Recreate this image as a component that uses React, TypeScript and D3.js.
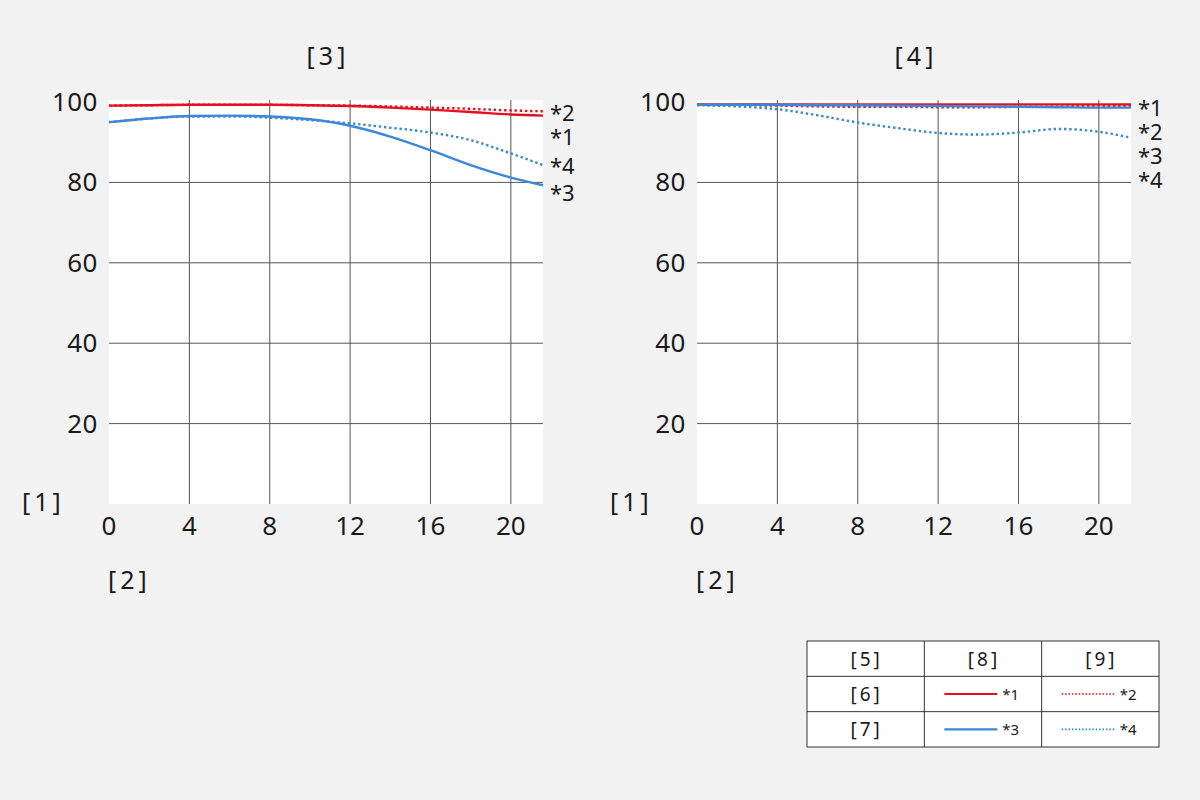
import React from "react";
import * as d3 from "d3";

// image height in mm
const heights = [0, 2, 4, 6, 8, 10, 12, 14, 16, 18, 20, 21.6];

const leftRedSolid = [99.1, 99.2, 99.3, 99.3, 99.3, 99.2, 99.0, 98.6, 98.1, 97.5, 96.9, 96.6];
const leftRedDotted = [99.1, 99.2, 99.3, 99.3, 99.3, 99.2, 99.1, 98.9, 98.6, 98.3, 97.9, 97.7];
const leftBlueSolid = [95.0, 95.9, 96.5, 96.6, 96.4, 95.7, 94.1, 91.4, 88.0, 84.3, 81.2, 79.3];
const leftBlueDotted = [95.0, 95.9, 96.4, 96.4, 96.1, 95.5, 94.7, 93.6, 92.4, 90.5, 87.2, 84.3];

const rightRedSolid = [99.4, 99.4, 99.4, 99.4, 99.4, 99.4, 99.4, 99.4, 99.4, 99.4, 99.4, 99.4];
const rightRedDotted = [99.3, 99.2, 99.1, 98.9, 98.8, 98.8, 98.7, 98.7, 98.8, 98.9, 99.0, 99.1];
const rightBlueSolid = [99.3, 99.3, 99.3, 99.2, 99.2, 99.1, 99.0, 98.9, 98.8, 98.7, 98.6, 98.6];
const rightBlueDotted = [99.2, 98.9, 98.2, 96.7, 94.9, 93.5, 92.3, 91.9, 92.4, 93.3, 92.6, 91.1];

const xTicks = [0, 4, 8, 12, 16, 20];
const yTicks = [20, 40, 60, 80, 100];
const yGrid = [20, 40, 60, 80];

const leftLabels = ["*2", "*1", "*4", "*3"];
const leftLabelValues = [97.3, 91.3, 84.1, 77.4];
const rightLabels = ["*1", "*2", "*3", "*4"];
const rightLabelValues = [98.5, 92.5, 86.6, 80.6];

const legendCols = ["[5]", "[8]", "[9]"];
const legendRows = ["[6]", "[7]"];
const legendKeys = [
  ["*1", "*2"],
  ["*3", "*4"],
];

const RED = "#e60f1e";
const BLUE = "#3a88d6";
const FONT = "'Noto Sans', 'Open Sans', sans-serif";
const TEXT = "#1a1a1a";

const W = 1200;
const H = 800;

interface Series {
  values: number[];
  color: string;
  dotted: boolean;
}

const Panel: React.FC<{
  x0: number;
  title: string;
  series: Series[];
  labels: string[];
  labelValues: number[];
}> = ({ x0, title, series, labels, labelValues }) => {
  const plotTop = 102;
  const plotBottom = 504;
  const x = d3.scaleLinear().domain([0, 21.6]).range([x0, x0 + 434]);
  const y = d3.scaleLinear().domain([0, 100]).range([plotBottom, plotTop]);

  const line = d3
    .line<number>()
    .x((_, i) => x(heights[i]))
    .y((d) => y(d))
    .curve(d3.curveMonotoneX);

  return (
    <g fontFamily={FONT} fill={TEXT}>
      <rect
        x={x(0)}
        y={y(100) - 2}
        width={x(21.6) - x(0)}
        height={y(0) - y(100) + 2}
        fill="#fff"
      />
      {yGrid.map((t) => (
        <line
          key={"h" + t}
          x1={x(0)}
          x2={x(21.6)}
          y1={y(t)}
          y2={y(t)}
          stroke="#555"
          strokeWidth={1}
        />
      ))}
      {xTicks.slice(1).map((t) => (
        <line
          key={"v" + t}
          x1={x(t)}
          x2={x(t)}
          y1={y(100) - 2}
          y2={y(0)}
          stroke="#555"
          strokeWidth={1}
        />
      ))}
      {series.map((s, i) => (
        <path
          key={i}
          d={line(s.values) || ""}
          fill="none"
          stroke={s.color}
          strokeWidth={2.4}
          strokeDasharray={s.dotted ? "2.4 2.8" : undefined}
        />
      ))}
      {yTicks.map((t) => (
        <text key={"yt" + t} x={x(0) - 11} y={y(t) + 9} fontSize={26} textAnchor="end" letterSpacing={0.5}>
          {t}
        </text>
      ))}
      {xTicks.map((t) => (
        <text key={"xt" + t} x={x(t)} y={535} fontSize={26} textAnchor="middle">
          {t}
        </text>
      ))}
      {labels.map((l, i) => (
        <text key={l} x={x(21.6) + 7} y={y(labelValues[i]) + 8} fontSize={22}>
          {l}
        </text>
      ))}
      <text x={(x(0) + x(21.6)) / 2 + 2} y={65} fontSize={25} textAnchor="middle" letterSpacing={4}>
        {title}
      </text>
      <text x={x(0) - 87} y={511} fontSize={25} letterSpacing={4}>
        [1]
      </text>
      <text x={x(0) - 1} y={589} fontSize={25} letterSpacing={4}>
        [2]
      </text>
    </g>
  );
};

const Legend: React.FC = () => {
  const colX = d3.scaleBand<number>().domain([0, 1, 2]).range([807, 1159]);
  const rowY = d3.scaleBand<number>().domain([0, 1, 2]).range([641, 747]);
  const cw = colX.bandwidth();
  const rh = rowY.bandwidth();
  const colors = [RED, BLUE];
  return (
    <g fontFamily={FONT} fill={TEXT}>
      <rect x={807} y={641} width={352} height={106} fill="#fff" stroke="#333" strokeWidth={1} />
      {[1, 2].map((i) => (
        <line key={"c" + i} x1={colX(i)} x2={colX(i)} y1={641} y2={747} stroke="#333" />
      ))}
      {[1, 2].map((i) => (
        <line key={"r" + i} x1={807} x2={1159} y1={rowY(i)} y2={rowY(i)} stroke="#333" />
      ))}
      {legendCols.map((c, i) => (
        <text
          key={c}
          x={(colX(i) as number) + cw / 2 + 1}
          y={(rowY(0) as number) + rh / 2 + 7}
          fontSize={19}
          textAnchor="middle"
          letterSpacing={3}
        >
          {c}
        </text>
      ))}
      {legendRows.map((r, ri) => (
        <g key={r}>
          <text
            x={(colX(0) as number) + cw / 2 + 1}
            y={(rowY(ri + 1) as number) + rh / 2 + 7}
            fontSize={19}
            textAnchor="middle"
            letterSpacing={3}
          >
            {r}
          </text>
          {legendKeys[ri].map((k, ki) => {
            const cx = colX(ki + 1) as number;
            const cy = (rowY(ri + 1) as number) + rh / 2;
            return (
              <g key={k}>
                <line
                  x1={cx + 20}
                  x2={cx + 73}
                  y1={cy}
                  y2={cy}
                  stroke={colors[ri]}
                  strokeWidth={ki === 0 ? 2.2 : 1.6}
                  strokeDasharray={ki === 0 ? undefined : "1.6 1.8"}
                />
                <text x={cx + 78} y={cy + 6} fontSize={15}>
                  {k}
                </text>
              </g>
            );
          })}
        </g>
      ))}
    </g>
  );
};

export default function App() {
  const leftSeries: Series[] = [
    { values: leftRedDotted, color: RED, dotted: true },
    { values: leftRedSolid, color: RED, dotted: false },
    { values: leftBlueDotted, color: BLUE, dotted: true },
    { values: leftBlueSolid, color: BLUE, dotted: false },
  ];
  const rightSeries: Series[] = [
    { values: rightRedSolid, color: RED, dotted: false },
    { values: rightRedDotted, color: RED, dotted: true },
    { values: rightBlueSolid, color: BLUE, dotted: false },
    { values: rightBlueDotted, color: BLUE, dotted: true },
  ];
  return (
    <svg
      width={W}
      height={H}
      style={{ position: "absolute", left: 0, top: 0, background: "#f2f2f2" }}
    >
      <rect width={W} height={H} fill="#f2f2f2" />
      <Panel
        x0={109}
        title="[3]"
        series={leftSeries}
        labels={leftLabels}
        labelValues={leftLabelValues}
      />
      <Panel
        x0={697}
        title="[4]"
        series={rightSeries}
        labels={rightLabels}
        labelValues={rightLabelValues}
      />
      <Legend />
    </svg>
  );
}
